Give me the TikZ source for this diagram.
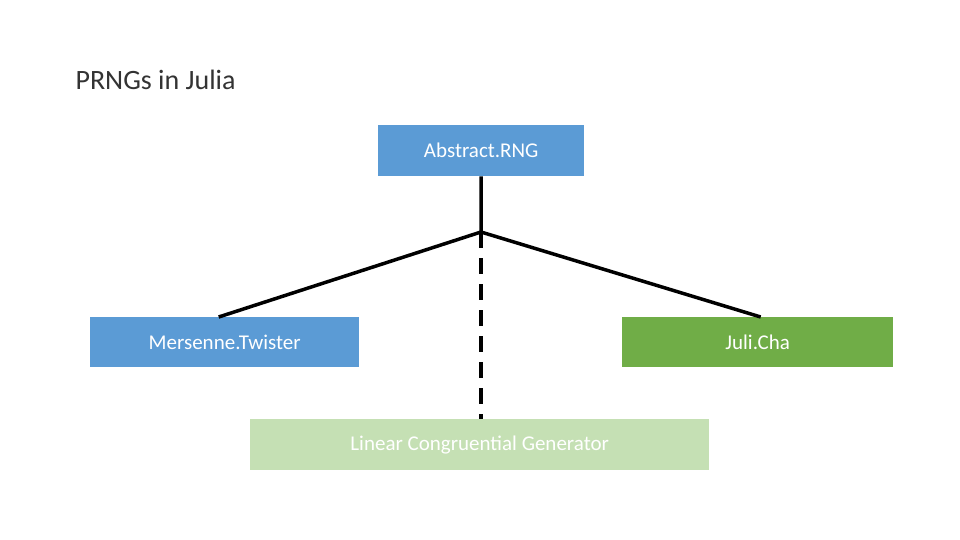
\documentclass[tikz,border=0pt]{standalone}
\usepackage{fontspec}
\setmainfont{Carlito}
\definecolor{blu}{HTML}{5B9BD5}
\definecolor{grn}{HTML}{70AD47}
\definecolor{lgrn}{HTML}{C5E0B4}
\begin{document}
\begin{tikzpicture}[x=1pt,y=-1pt,
 box/.style={draw=none,text=white,font=\fontsize{21}{24}\selectfont,inner sep=0pt,anchor=north west},
 conn/.style={line width=3.5pt}]
\useasboundingbox (0,0) rectangle (960,540);
\node[anchor=west,font=\fontsize{28}{32}\selectfont,text=black!80] (t) at (72,80) {PRNGs in Julia};
\node[box,fill=blu,minimum width=206pt,minimum height=51pt] (a) at (378,125) {Abstract.RNG};
\node[box,fill=blu,minimum width=269pt,minimum height=50pt] (m) at (90,317) {Mersenne.Twister};
\node[box,fill=grn,minimum width=271pt,minimum height=50pt] (j) at (622,317) {Juli.Cha};
\node[box,fill=lgrn,minimum width=459pt,minimum height=51pt] (l) at (250,419) {Linear Congruential Generator};
\coordinate (c) at (481,232);
\draw[conn] (a.south) -- (c);
\draw[conn] (c) -- ([xshift=-6pt]m.north);
\draw[conn] (c) -- ([xshift=3pt]j.north);
\draw[conn,dashed,dash pattern=on 16pt off 10pt] (c) -- (l.north -| c);
\end{tikzpicture}
\end{document}
